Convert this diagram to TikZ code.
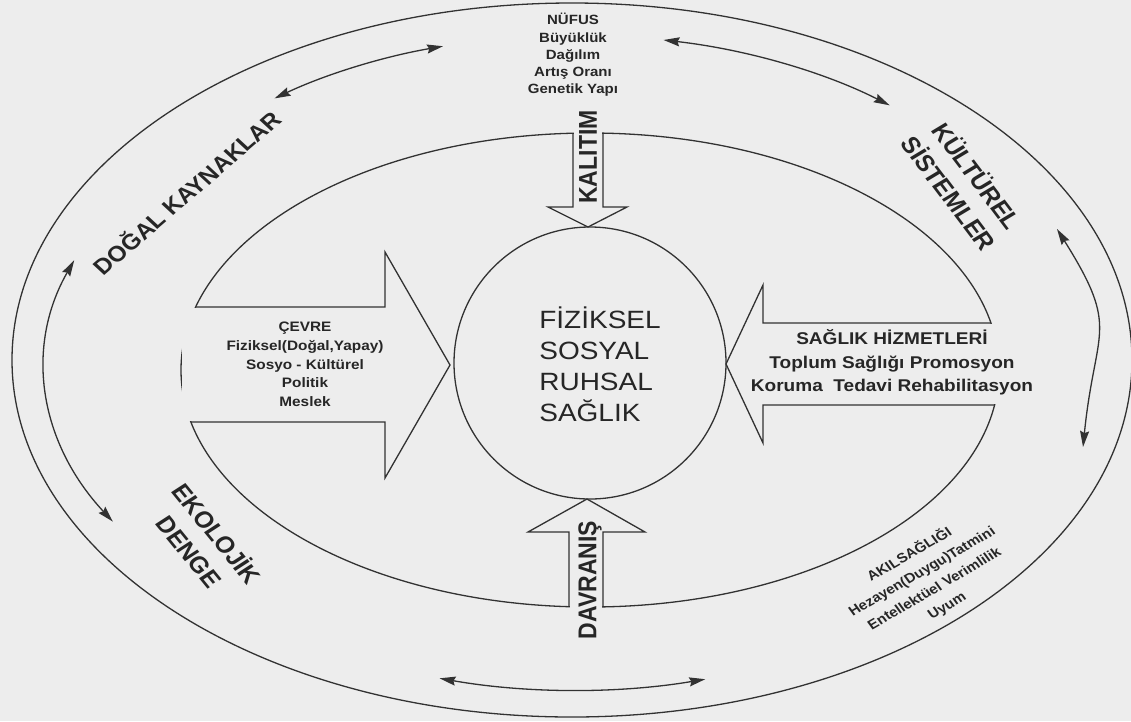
\documentclass[tikz,border=0pt]{standalone}
\usepackage{fontspec}
\setmainfont{Liberation Sans}
\usetikzlibrary{arrows.meta}
\definecolor{bg}{RGB}{237,237,237}
\definecolor{ink}{RGB}{50,50,50}
\definecolor{txt}{RGB}{38,38,38}
\newcommand\stretchnode[5]{%
  \begin{scope}[shift={(#2)},xscale=1.12]
    \node[transform shape,rotate=#3,#4] (#1) at (0,0) {#5};
  \end{scope}}
\begin{document}
\begin{tikzpicture}[x=1pt,y=-1pt,
  ln/.style={draw=ink,line width=1.3pt,line join=miter},
  gap/.style={fill=bg,draw=none},
  ringarrow/.style={draw=ink,line width=1.3pt,
    arrows={Stealth[length=16pt,width=9pt,inset=2pt]-Stealth[length=16pt,width=9pt,inset=2pt]}},
  lbl/.style={inner sep=0pt,text=txt},
  smalltxt/.style={lbl,font=\bfseries\fontsize{13.4}{17.3}\selectfont},
  midtxt/.style={lbl,font=\bfseries\fontsize{17}{23.5}\selectfont},
  bigtxt/.style={lbl,font=\bfseries\fontsize{23}{30.5}\selectfont},
  hugetxt/.style={lbl,font=\fontsize{25}{31}\selectfont}]
\fill[bg] (0,0) rectangle (1131,721);
\useasboundingbox (0,0) rectangle (1131,721);

% outer and inner ellipses
\draw[ln] (572,360) ellipse [x radius=560, y radius=357];
\draw[ln] (590,370) ellipse [x radius=409, y radius=237];

% openings of the inner ellipse where the block arrows start
\fill[gap] (573.9,124) rectangle (602.1,142);
\fill[gap] (569.9,598) rectangle (602.1,616);
\fill[gap] (182,307.9) rectangle (205,421.1);
\fill[gap] (980,323.9) rectangle (1004,404.1);

% central circle
\draw[ln] (590,363) circle [radius=136];

% block arrows
\draw[ln] (573,133.2) -- (573,207) -- (548,207) -- (588,227) -- (627,207) -- (603,207) -- (603,133.1);
\draw[ln] (569,606.7) -- (569,532) -- (528,532) -- (587,499) -- (645,532) -- (603,532) -- (603,606.8);
\draw[ln] (196,307) -- (385,307) -- (385,252) -- (450,365) -- (385,478) -- (385,422) -- (191,422);
\draw[ln] (991,323) -- (763,323) -- (763,285) -- (726,364) -- (763,443) -- (763,405) -- (994,405);

% arrows running round the ring
\coordinate (tlA) at ({575+510*cos(-126.1)},{365+330*sin(-126.1)});
\draw[ringarrow] (tlA) arc[start angle=-126.1,end angle=-105,x radius=510,y radius=330];
\coordinate (trA) at ({575+510*cos(-80)},{365+330*sin(-80)});
\draw[ringarrow] (trA) arc[start angle=-80,end angle=-51.9,x radius=510,y radius=330];
\coordinate (lfA) at ({575+530*cos(-160.9)},{365+320*sin(-160.9)});
\draw[ringarrow] (lfA) arc[start angle=-160.9,end angle=-209.3,x radius=530,y radius=320];
\coordinate (btA) at ({575+510*cos(105.4)},{365+325*sin(105.4)});
\draw[ringarrow] (btA) arc[start angle=105.4,end angle=75.2,x radius=510,y radius=325];
\coordinate (rtA) at (1057,229);
\coordinate (rtB) at (1083,447);
\draw[ringarrow] (rtA) .. controls (1121,331) and (1095,327) .. (rtB);

% texts
\stretchnode{nufus}{573,55}{0}{smalltxt,align=center}{NÜFUS\\Büyüklük\\Dağılım\\Artış Oranı\\Genetik Yapı}
\stretchnode{cevre}{305,364.5}{0}{lbl,align=center,font=\bfseries\fontsize{13.7}{18.75}\selectfont}{ÇEVRE\\Fiziksel(Doğal,Yapay)\\Sosyo - Kültürel\\Politik\\Meslek}
\stretchnode{hizmet}{892,362.6}{0}{midtxt,align=center}{SAĞLIK HİZMETLERİ\\Toplum Sağlığı Promosyon\\Koruma\ \ Tedavi Rehabilitasyon}
\stretchnode{saglik}{600,364}{0}{hugetxt,align=left}{FİZİKSEL\\SOSYAL\\RUHSAL\\SAĞLIK}
\stretchnode{kalitim}{588,157}{90}{bigtxt}{KALITIM}
\stretchnode{davranis}{590,580}{90}{bigtxt}{DAVRANIŞ}
\stretchnode{dogal}{186,192}{44}{lbl,font=\bfseries\fontsize{22}{28}\selectfont}{DOĞAL KAYNAKLAR}
\stretchnode{kultur}{964,184}{-56}{bigtxt,align=center}{KÜLTÜREL\\SİSTEMLER}
\stretchnode{ekoloji}{204,542}{-54}{bigtxt,align=center}{EKOLOJİK\\DENGE}
\stretchnode{akil}{928,580}{33}{lbl,align=center,font=\bfseries\fontsize{13.5}{20.5}\selectfont}{AKILSAĞLIĞI\\Hezayen(Duygu)Tatmini\\Entellektüel Verimlilik\\Uyum}
\end{tikzpicture}
\end{document}
